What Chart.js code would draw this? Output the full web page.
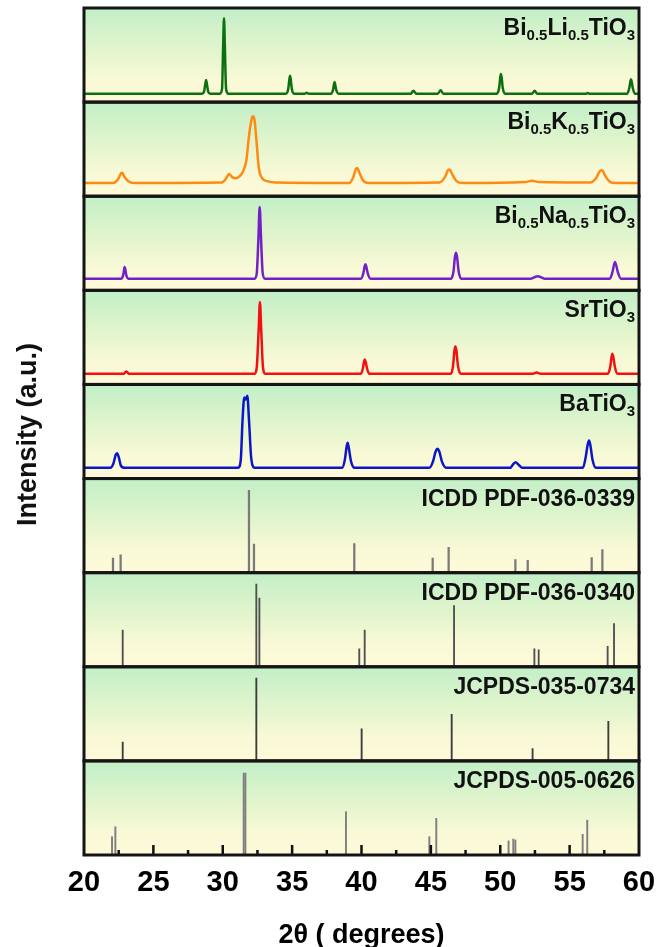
<!DOCTYPE html>
<html>
<head>
<meta charset="utf-8">
<title>XRD patterns</title>
<script src="https://cdn.jsdelivr.net/npm/chart.js@4.4.1/dist/chart.umd.min.js"></script>
<style>
  html, body { margin: 0; padding: 0; background: #ffffff; }
  #wrap { width: 670px; height: 947px; }
</style>
</head>
<body>
<div id="wrap"><canvas id="xrdChart" width="670" height="947"></canvas></div>
<script>
// ---- data (2theta, intensity in % of panel height) ----
const xTicks = [20, 25, 30, 35, 40, 45, 50, 55, 60];

// measured patterns
const liPattern = [
  [20, 9], [28.5, 9], [28.65, 11], [28.75, 20], [28.8, 23.5], [28.85, 20], [28.95, 11], [29.1, 9],
  [29.8, 9], [29.95, 14], [30.03, 60], [30.09, 89], [30.15, 60], [30.24, 14], [30.4, 9],
  [34.55, 9], [34.72, 14], [34.8, 24], [34.85, 28], [34.9, 24], [34.98, 14], [35.15, 9],
  [35.9, 9], [36.05, 10], [36.2, 9],
  [37.8, 9], [37.95, 13], [38.02, 19], [38.06, 21.5], [38.1, 19], [38.18, 13], [38.35, 9],
  [43.55, 9], [43.74, 12], [43.95, 9],
  [45.5, 9], [45.7, 12.5], [45.9, 9],
  [49.75, 9], [49.92, 15], [50.0, 26], [50.05, 30], [50.1, 26], [50.18, 15], [50.35, 9],
  [52.3, 9], [52.48, 12], [52.65, 9],
  [56.2, 9], [56.3, 9.8], [56.4, 9],
  [59.15, 9], [59.3, 15], [59.38, 22], [59.42, 24.4], [59.47, 22], [59.55, 15], [59.7, 9],
  [60, 9],
];
const kPattern = [
  [20, 14], [22.1, 14], [22.45, 18], [22.65, 24], [22.75, 25], [22.9, 21], [23.2, 16], [23.6, 14],
  [29.9, 14.5], [30.2, 18], [30.45, 23.5], [30.7, 20], [30.95, 19], [31.2, 21], [31.45, 26],
  [31.7, 38], [31.9, 65], [32.1, 83], [32.18, 85], [32.3, 80], [32.45, 55], [32.6, 30],
  [32.85, 19], [33.2, 16], [33.8, 14.5],
  [39.1, 14], [39.4, 20], [39.6, 29], [39.7, 30], [39.85, 25], [40.1, 17], [40.5, 14],
  [45.6, 14.5], [46.0, 20], [46.25, 28], [46.35, 28.5], [46.55, 23], [46.85, 16], [47.3, 14],
  [51.8, 15], [52.3, 16.5], [52.8, 15],
  [56.5, 14.5], [56.9, 19], [57.2, 27], [57.35, 27.5], [57.55, 22], [57.85, 16], [58.3, 14],
  [60, 14],
];
const naPattern = [
  [20, 12.4], [22.7, 12.4], [22.82, 16], [22.9, 23], [22.93, 24.8], [22.97, 23], [23.05, 16], [23.2, 12.4],
  [32.3, 12.4], [32.45, 18], [32.57, 55], [32.66, 88.6], [32.76, 55], [32.88, 18], [33.05, 12.4],
  [39.95, 12.4], [40.13, 18], [40.22, 25], [40.28, 27.7], [40.35, 25], [40.45, 18], [40.65, 12.4],
  [46.45, 12.4], [46.63, 20], [46.73, 35], [46.81, 40], [46.89, 35], [47.0, 20], [47.2, 12.4],
  [52.2, 12.4], [52.7, 14.9], [53.2, 12.4],
  [57.9, 12.4], [58.08, 19], [58.2, 27], [58.27, 30], [58.35, 27], [58.48, 19], [58.7, 12.4],
  [60, 12.4],
];
const srPattern = [
  [20, 11.4], [22.85, 11.4], [23.05, 13.8], [23.25, 11.4],
  [32.3, 11.4], [32.45, 18], [32.58, 55], [32.68, 87.6], [32.78, 55], [32.9, 18], [33.05, 11.4],
  [39.95, 11.4], [40.1, 17], [40.18, 24], [40.23, 26.6], [40.3, 24], [40.4, 17], [40.55, 11.4],
  [46.45, 11.4], [46.6, 20], [46.7, 36], [46.76, 40.4], [46.84, 36], [46.95, 20], [47.15, 11.4],
  [52.35, 11.4], [52.62, 12.8], [52.9, 11.4],
  [57.75, 11.4], [57.92, 18], [58.02, 29], [58.08, 32.6], [58.15, 29], [58.27, 18], [58.45, 11.4],
  [60, 11.4],
];
const baPattern = [
  [20, 11.4], [21.9, 11.4], [22.12, 16], [22.28, 25], [22.38, 27], [22.5, 23], [22.65, 14], [22.9, 11.4],
  [31.1, 11.4], [31.3, 20], [31.42, 60], [31.55, 86], [31.65, 84], [31.77, 88], [31.9, 60], [32.05, 22], [32.3, 11.4],
  [38.6, 11.4], [38.8, 20], [38.93, 34], [39.0, 38], [39.08, 33], [39.25, 18], [39.5, 11.4],
  [44.9, 11.4], [45.15, 18], [45.35, 29], [45.47, 31.6], [45.6, 29], [45.8, 18], [46.1, 11.4],
  [50.7, 11.4], [50.95, 15.5], [51.11, 17.3], [51.3, 15], [51.6, 11.4],
  [55.95, 11.4], [56.15, 22], [56.3, 36], [56.4, 40.4], [56.5, 35], [56.65, 20], [56.9, 11.4],
  [60, 11.4],
];

// reference cards (stick positions and relative heights)
const pdf0339Pos = [22.09, 22.64, 31.89, 32.25, 39.48, 45.13, 46.28, 51.09, 51.98, 56.59, 57.36];
const pdf0339Int = [15.6, 19, 87.5, 30.5, 31, 15.6, 27, 14, 13, 16, 24.5];
const pdf0340Pos = [22.79, 32.42, 32.64, 39.84, 40.23, 46.67, 52.46, 52.77, 57.74, 58.2];
const pdf0340Int = [39, 88, 73, 19, 39, 65, 19, 18, 21.6, 46];
const jc0734Pos = [22.79, 32.42, 40.01, 46.5, 52.33, 57.79];
const jc0734Int = [20, 88, 34, 49.5, 13, 42];
const jc0626Pos = [22.02, 22.26, 31.51, 31.63, 38.88, 44.89, 45.39, 50.6, 50.94, 51.09, 55.94, 56.27];
const jc0626Int = [19.5, 30, 87, 87, 46, 19.5, 39, 15, 17, 16, 22, 37];

// panel labels: [text, isSubscript]
const panelLabels = [
  [["Bi", 0], ["0.5", 1], ["Li", 0], ["0.5", 1], ["TiO", 0], ["3", 1]],
  [["Bi", 0], ["0.5", 1], ["K", 0], ["0.5", 1], ["TiO", 0], ["3", 1]],
  [["Bi", 0], ["0.5", 1], ["Na", 0], ["0.5", 1], ["TiO", 0], ["3", 1]],
  [["SrTiO", 0], ["3", 1]],
  [["BaTiO", 0], ["3", 1]],
  [["ICDD PDF-036-0339", 0]],
  [["ICDD PDF-036-0340", 0]],
  [["JCPDS-035-0734", 0]],
  [["JCPDS-005-0626", 0]],
];

const panelIds = ["p1", "p2", "p3", "p4", "p5", "p6", "p7", "p8", "p9"];
const FONT = '"Liberation Sans", Arial, Helvetica, sans-serif';

function toPoints(pairs) {
  return pairs.map((p) => ({ x: p[0], y: p[1] }));
}
function toSticks(pos, vals) {
  return pos.map((x, i) => ({ x: x, y: vals[i] }));
}

function lineSet(pairs, color, axis) {
  return {
    type: "line",
    data: toPoints(pairs),
    yAxisID: axis,
    borderColor: color,
    borderWidth: 2.5,
    pointRadius: 0,
    cubicInterpolationMode: "monotone",
    fill: false,
  };
}
function stickSet(pos, vals, color, width, axis) {
  return {
    type: "bar",
    data: toSticks(pos, vals),
    yAxisID: axis,
    backgroundColor: color,
    barThickness: width,
    grouped: false,
    borderWidth: 0,
  };
}

// background gradient, frames, inward ticks and labels
const panelPlugin = {
  id: "panels",
  beforeDatasetsDraw(chart) {
    const ctx = chart.ctx;
    const xs = chart.scales.x;
    ctx.save();
    panelIds.forEach((id) => {
      const s = chart.scales[id];
      const g = ctx.createLinearGradient(0, s.top, 0, s.bottom);
      g.addColorStop(0, "#c2efc7");
      g.addColorStop(0.45, "#e3f5cd");
      g.addColorStop(0.75, "#f8f9d6");
      g.addColorStop(1, "#fffad9");
      ctx.fillStyle = g;
      ctx.fillRect(xs.left, s.top, xs.right - xs.left, s.bottom - s.top);
    });
    ctx.restore();
  },
  afterDatasetsDraw(chart) {
    const ctx = chart.ctx;
    const xs = chart.scales.x;
    const area = chart.chartArea;
    ctx.save();

    // inward ticks on the bottom axis
    ctx.strokeStyle = "#111";
    ctx.lineWidth = 2.5;
    for (let v = 22.5; v < 60; v += 2.5) {
      const px = xs.getPixelForValue(v);
      const len = v % 5 === 0 ? 10 : 5;
      ctx.beginPath();
      ctx.moveTo(px, area.bottom);
      ctx.lineTo(px, area.bottom - len);
      ctx.stroke();
    }

    // panel frames
    ctx.lineWidth = 3;
    ctx.strokeStyle = "#151515";
    panelIds.forEach((id) => {
      const s = chart.scales[id];
      ctx.strokeRect(xs.left, s.top, xs.right - xs.left, s.bottom - s.top);
    });

    // panel labels with subscripts
    ctx.fillStyle = "#111";
    ctx.textBaseline = "alphabetic";
    ctx.textAlign = "left";
    panelIds.forEach((id, i) => {
      const s = chart.scales[id];
      const parts = panelLabels[i];
      let total = 0;
      parts.forEach((p) => {
        ctx.font = "bold " + (p[1] ? 15 : 23) + "px " + FONT;
        total += ctx.measureText(p[0]).width;
      });
      let x = xs.right - 4 - total;
      const base = s.top + 27;
      parts.forEach((p) => {
        ctx.font = "bold " + (p[1] ? 15 : 23) + "px " + FONT;
        ctx.fillText(p[0], x, p[1] ? base + 5 : base);
        x += ctx.measureText(p[0]).width;
      });
    });

    // y axis title
    ctx.font = "bold 27px " + FONT;
    ctx.textAlign = "center";
    ctx.textBaseline = "middle";
    ctx.translate(29, (area.top + area.bottom) / 2 + 3);
    ctx.rotate(-Math.PI / 2);
    ctx.fillText("Intensity (a.u.)", 0, 0);
    ctx.restore();
  },
};

const scales = {
  x: {
    type: "linear",
    position: "bottom",
    min: 20,
    max: 60,
    offset: false,
    afterBuildTicks: (scale) => {
      scale.ticks = xTicks.map((v) => ({ value: v }));
    },
    afterFit: (scale) => {
      scale.height = 92;
    },
    grid: { display: false, drawTicks: false },
    border: { display: false },
    ticks: {
      color: "#000",
      padding: 11,
      maxRotation: 0,
      autoSkip: false,
      font: { family: FONT, size: 29, weight: "bold" },
    },
    title: {
      display: true,
      text: "2θ ( degrees)",
      color: "#000",
      padding: 0,
      font: { family: FONT, size: 27, weight: "bold", lineHeight: 0.86 },
    },
  },
};
panelIds.forEach((id, i) => {
  scales[id] = {
    type: "linear",
    position: "left",
    stack: "xrd",
    stackWeight: 1,
    weight: panelIds.length - i,
    min: 0,
    max: 100,
    offset: false,
    ticks: { display: false },
    grid: { display: false, drawTicks: false },
    border: { display: false },
  };
});

const datasets = [
  lineSet(liPattern, "#0d7010", "p1"),
  lineSet(kPattern, "#ff8a12", "p2"),
  lineSet(naPattern, "#7420c8", "p3"),
  lineSet(srPattern, "#f21010", "p4"),
  lineSet(baPattern, "#0c16c8", "p5"),
  stickSet(pdf0339Pos, pdf0339Int, "#7a7a7a", 1.6, "p6"),
  stickSet(pdf0340Pos, pdf0340Int, "#505050", 1.2, "p7"),
  stickSet(jc0734Pos, jc0734Int, "#3c3c3c", 1.2, "p8"),
  stickSet(jc0626Pos, jc0626Int, "#808080", 1.3, "p9"),
];

const ctx = document.getElementById("xrdChart").getContext("2d");
const xrdChart = new Chart(ctx, {
  type: "line",
  data: { datasets: datasets },
  options: {
    responsive: false,
    animation: false,
    devicePixelRatio: 1,
    layout: { padding: { left: 84, right: 31, top: 8, bottom: 0 } },
    plugins: { legend: { display: false }, tooltip: { enabled: false } },
    scales: scales,
  },
  plugins: [panelPlugin],
});
</script>
</body>
</html>
